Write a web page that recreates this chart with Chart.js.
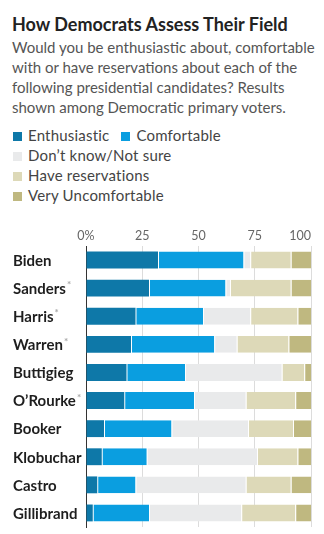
<!DOCTYPE html>
<html>
<head>
<meta charset="utf-8">
<script src="https://cdn.jsdelivr.net/npm/chart.js@4"></script>
<style>
  body { margin: 0; background: #fff; font-family: Lato, 'Open Sans', sans-serif; }
  #wrap { position: relative; width: 324px; height: 534px; overflow: hidden; }
  #title { position: absolute; left: 12px; top: 13px; font-size: 18px; font-weight: 700; color: #222; white-space: nowrap; }
  #sub { position: absolute; left: 12px; top: 37px; font-size: 15px; line-height: 20px; color: #555; white-space: nowrap; }
  #legend { position: absolute; left: 13px; top: 125px; font-size: 15px; letter-spacing: 0.2px; line-height: 20px; color: #444; }
  .item { display: inline-block; white-space: nowrap; margin-right: 12px; }
  .sw { display: inline-block; width: 9px; height: 9px; margin-right: 6px; vertical-align: 0px; }
  #box { position: absolute; left: 0; top: 225px; }
</style>
</head>
<body>
<div id="wrap">
  <div id="title">How Democrats Assess Their Field</div>
  <div id="sub">Would you be enthusiastic about, comfortable<br>with or have reservations about each of the<br>following presidential candidates? Results<br>shown among Democratic primary voters.</div>
  <div id="legend"></div>
  <div id="box"><canvas id="myChart" width="324" height="309"></canvas></div>
</div>
<script>
const candidates = ['Biden', 'Sanders', 'Harris', 'Warren', 'Buttigieg', "O\u2019Rourke", 'Booker', 'Klobuchar', 'Castro', 'Gillibrand'];
const marked = [false, true, true, true, false, true, false, false, false, false];

const enthusiastic  = [32, 28, 22, 20, 18, 17, 8, 7, 5, 3];
const comfortable   = [38, 34, 30, 37, 26, 31, 30, 20, 17, 25];
const dontKnow      = [3, 2, 21, 10, 43, 23, 34, 49, 49, 41];
const reservations  = [18, 27, 21, 23, 10, 22, 20, 18, 20, 24];
const uncomfortable = [9, 9, 6, 10, 3, 7, 8, 6, 9, 7];

const seriesNames = ['Enthusiastic', 'Comfortable', 'Don\u2019t know/Not sure', 'Have reservations', 'Very Uncomfortable'];
const seriesColors = ['#0e78a8', '#0a9ee0', '#e9eaeb', '#ddd9b8', '#bfb880'];
const xTicks = [0, 25, 50, 75, 100];

// legend: first two items on one line, the rest stacked
const legendEl = document.getElementById('legend');
seriesNames.forEach((name, i) => {
    const span = document.createElement('span');
    span.className = 'item';
    span.innerHTML = '<span class="sw" style="background:' + seriesColors[i] + '"></span>' + name;
    legendEl.appendChild(span);
    if (i >= 1) legendEl.appendChild(document.createElement('br'));
});

const values = [enthusiastic, comfortable, dontKnow, reservations, uncomfortable];

// candidate names + footnote marks drawn at the category positions
const namesPlugin = {
    id: 'names',
    afterDraw(chart) {
        const ctx = chart.ctx;
        const y = chart.scales.y;
        ctx.save();
        ctx.textBaseline = 'middle';
        candidates.forEach((name, i) => {
            const py = y.getPixelForValue(i);
            ctx.font = "bold 15px Lato, sans-serif";
            ctx.fillStyle = '#1e1e1e';
            ctx.fillText(name, 13, py + 1);
            if (marked[i]) {
                const w = ctx.measureText(name).width;
                ctx.font = "bold 10px Lato, sans-serif";
                ctx.fillStyle = '#a8a8a8';
                ctx.fillText('*', 13 + w + 1, py - 3);
            }
        });
        // x tick labels, last one kept inside the plot
        const x = chart.scales.x;
        ctx.font = "12.5px Lato, sans-serif";
        ctx.fillStyle = '#666';
        xTicks.forEach(v => {
            const txt = v === 0 ? '0%' : String(v);
            const px = x.getPixelForValue(v);
            ctx.textAlign = v === 100 ? 'right' : 'center';
            ctx.fillText(txt, px, 11);
        });
        ctx.restore();
    }
};

const ctx = document.getElementById('myChart');
new Chart(ctx, {
    type: 'bar',
    data: {
        labels: candidates,
        datasets: values.map((data, i) => ({
            label: seriesNames[i],
            data: data,
            backgroundColor: seriesColors[i],
            borderColor: '#fff',
            borderWidth: i === 0 ? 0 : { top: 0, right: 0, bottom: 0, left: 1 },
            borderSkipped: false,
            barPercentage: 0.6,
            categoryPercentage: 1,
        }))
    },
    options: {
        indexAxis: 'y',
        responsive: false,
        animation: false,
        layout: { padding: { top: 0, right: 13, bottom: 7, left: 0 } },
        plugins: { legend: { display: false }, tooltip: { enabled: false } },
        scales: {
            x: {
                stacked: true,
                position: 'top',
                min: 0,
                max: 100,
                afterBuildTicks: s => { s.ticks = xTicks.map(v => ({ value: v })); },
                afterFit: s => { s.height = 21; },
                ticks: { display: false },
                grid: { color: '#dcdcdc', drawTicks: false, lineWidth: 1 },
                border: { display: false },
            },
            y: {
                stacked: true,
                afterFit: s => { s.width = 86; },
                ticks: { display: false },
                grid: { display: false },
                border: { display: true, color: '#333', width: 1 },
            }
        }
    },
    plugins: [namesPlugin]
});
</script>
</body>
</html>
